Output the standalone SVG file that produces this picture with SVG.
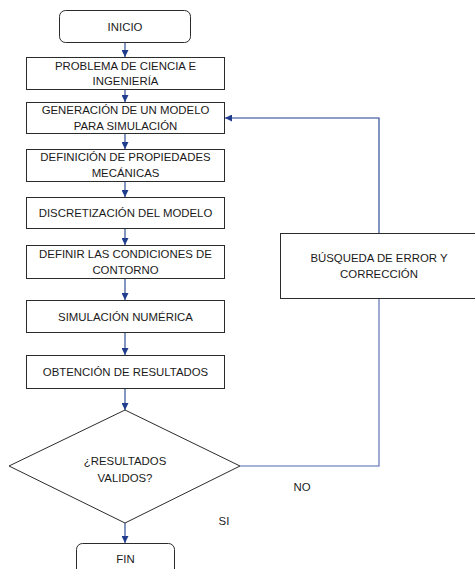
<svg xmlns="http://www.w3.org/2000/svg" width="475" height="569" viewBox="0 0 475 569">
<defs>
<marker id="ah" viewBox="0 0 8 8" refX="8" refY="4" markerWidth="7" markerHeight="7" markerUnits="userSpaceOnUse" orient="auto">
<path d="M0,0 L8,4 L0,8 Z" fill="#1f3d8c"/>
</marker>
<style>
.box{fill:#fff;stroke:#2b2b2b;stroke-width:1}
.t{font-family:"Liberation Sans",Arial,sans-serif;font-size:11.4px;fill:#1a1a1a;text-anchor:middle}
.c{fill:none;stroke:#1f3d8c;stroke-width:1.1}
.c2{fill:none;stroke:#4f66ad;stroke-width:1.1}
</style>
</defs>
<rect width="475" height="569" fill="#fff"/>
<g id="connectors">
<line class="c" x1="125" y1="43" x2="125" y2="57" marker-end="url(#ah)"/>
<line class="c" x1="125" y1="90" x2="125" y2="102" marker-end="url(#ah)"/>
<line class="c" x1="125" y1="134" x2="125" y2="149" marker-end="url(#ah)"/>
<line class="c" x1="125" y1="182" x2="125" y2="197" marker-end="url(#ah)"/>
<line class="c" x1="125" y1="229" x2="125" y2="245" marker-end="url(#ah)"/>
<line class="c" x1="125" y1="279" x2="125" y2="300" marker-end="url(#ah)"/>
<line class="c" x1="125" y1="333" x2="125" y2="355" marker-end="url(#ah)"/>
<line class="c" x1="125" y1="389" x2="125" y2="410" marker-end="url(#ah)"/>
<line class="c" x1="125" y1="523" x2="125" y2="543" marker-end="url(#ah)"/>
<polyline class="c2" points="240,466 379,466 379,299"/>
<polyline class="c" points="379,233 379,118 225,118" marker-end="url(#ah)"/>
<text class="t" x="302" y="491">NO</text>
<text class="t" x="224" y="525">SI</text>
</g>
<g id="inicio">
<rect class="box" x="59.5" y="10.5" width="131" height="32" rx="6"/>
<text class="t" x="125" y="31">INICIO</text>
</g>
<g id="problema">
<rect class="box" x="26.5" y="57.5" width="198" height="32"/>
<text class="t" x="125.5" y="70">PROBLEMA DE CIENCIA E</text>
<text class="t" x="125.5" y="85">INGENIERÍA</text>
</g>
<g id="generacion">
<rect class="box" x="26.5" y="102.5" width="198" height="31"/>
<text class="t" x="125.5" y="114">GENERACIÓN DE UN MODELO</text>
<text class="t" x="125.5" y="130">PARA SIMULACIÓN</text>
</g>
<g id="propiedades">
<rect class="box" x="26.5" y="149.5" width="198" height="32"/>
<text class="t" x="125.5" y="161">DEFINICIÓN DE PROPIEDADES</text>
<text class="t" x="125.5" y="177">MECÁNICAS</text>
</g>
<g id="discretizacion">
<rect class="box" x="26.5" y="197.5" width="198" height="31"/>
<text class="t" x="125.5" y="217">DISCRETIZACIÓN DEL MODELO</text>
</g>
<g id="contorno">
<rect class="box" x="26.5" y="245.5" width="198" height="33"/>
<text class="t" x="125.5" y="258">DEFINIR LAS CONDICIONES DE</text>
<text class="t" x="125.5" y="274">CONTORNO</text>
</g>
<g id="simulacion">
<rect class="box" x="26.5" y="300.5" width="198" height="32"/>
<text class="t" x="125.5" y="321">SIMULACIÓN NUMÉRICA</text>
</g>
<g id="resultados">
<rect class="box" x="26.5" y="355.5" width="198" height="33"/>
<text class="t" x="125.5" y="376">OBTENCIÓN DE RESULTADOS</text>
</g>
<g id="decision">
<polygon class="box" points="125,410 240,466 125,523 9,466"/>
<text class="t" x="125" y="465">¿RESULTADOS</text>
<text class="t" x="125" y="481.5">VALIDOS?</text>
</g>
<g id="fin">
<rect class="box" x="76.5" y="543.5" width="98" height="40" rx="6"/>
<text class="t" x="125.5" y="563">FIN</text>
</g>
<g id="busqueda">
<rect class="box" x="280.5" y="233.5" width="196" height="65"/>
<text class="t" x="379" y="262">BÚSQUEDA DE ERROR Y</text>
<text class="t" x="379" y="278">CORRECCIÓN</text>
</g>
</svg>
